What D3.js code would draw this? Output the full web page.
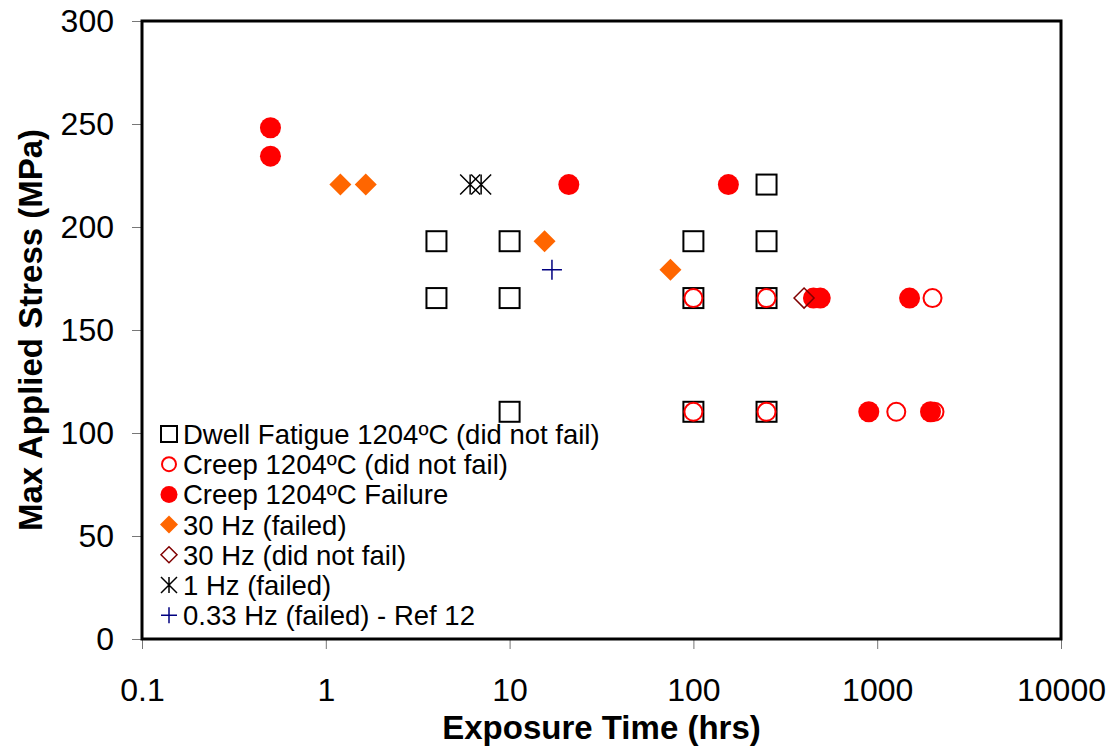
<!DOCTYPE html>
<html>
<head>
<meta charset="utf-8">
<script src="https://cdn.jsdelivr.net/npm/d3@7"></script>
<style>
  body { margin: 0; background: #fff; }
  svg { display: block; font-family: "Liberation Sans", Arial, sans-serif; }
</style>
</head>
<body>
<div id="chart"></div>
<script>
// data (time in hrs, stress in MPa)
var dwellT = [4, 10, 100, 250, 250, 4, 10, 100, 250, 10, 100, 250];
var dwellS = [193.1, 193.1, 193.1, 193.1, 220.6, 165.5, 165.5, 165.5, 165.5, 110.3, 110.3, 110.3];
var creepOkT = [100, 250, 2000, 100, 250, 1270, 2050];
var creepOkS = [165.5, 165.5, 165.5, 110.3, 110.3, 110.3, 110.3];
var creepFailT = [0.5, 0.5, 21, 155, 450, 490, 1500, 900, 1950];
var creepFailS = [248.2, 234.4, 220.6, 220.6, 165.5, 165.5, 165.5, 110.3, 110.3];
var hz30FailT = [1.2, 1.65, 15.5, 75];
var hz30FailS = [220.6, 220.6, 193.1, 179.3];
var hz30OkT = [400];
var hz30OkS = [165.5];
var hz1T = [6.1, 7.0];
var hz1S = [220.6, 220.6];
var hz033T = [17];
var hz033S = [179.3];

var seriesNames = [
  "Dwell Fatigue 1204ºC (did not fail)",
  "Creep 1204ºC (did not fail)",
  "Creep 1204ºC Failure",
  "30 Hz (failed)",
  "30 Hz (did not fail)",
  "1 Hz (failed)",
  "0.33 Hz (failed) - Ref 12"
];
var xTicks = [0.1, 1, 10, 100, 1000, 10000];
var yTicks = [0, 50, 100, 150, 200, 250, 300];

function zip(t, s) {
  return t.map(function(v, i) { return { t: v, s: s[i] }; });
}

var series = [
  { name: seriesNames[0], type: "square", pts: zip(dwellT, dwellS) },
  { name: seriesNames[1], type: "circleOpen", pts: zip(creepOkT, creepOkS) },
  { name: seriesNames[2], type: "circleFill", pts: zip(creepFailT, creepFailS) },
  { name: seriesNames[3], type: "diamondFill", pts: zip(hz30FailT, hz30FailS) },
  { name: seriesNames[4], type: "diamondOpen", pts: zip(hz30OkT, hz30OkS) },
  { name: seriesNames[5], type: "asterisk", pts: zip(hz1T, hz1S) },
  { name: seriesNames[6], type: "plus", pts: zip(hz033T, hz033S) }
];

var w = 1118;
var h = 752;
var plotL = 142, plotR = 1061, plotT = 21, plotB = 639;

var svg = d3.select("#chart").append("svg")
  .attr("width", w)
  .attr("height", h);

var x = d3.scaleLog().domain([0.1, 10000]).range([plotL, plotR]);
var y = d3.scaleLinear().domain([0, 300]).range([plotB, plotT]);

// axes
var xAxis = d3.axisBottom(x)
  .tickValues(xTicks)
  .tickFormat(function(d) { return String(d); })
  .tickSize(10)
  .tickPadding(29);
var yAxis = d3.axisLeft(y)
  .tickValues(yTicks)
  .tickSize(10)
  .tickPadding(18);

var gx = svg.append("g")
  .attr("transform", "translate(0," + plotB + ")")
  .call(xAxis);
var gy = svg.append("g")
  .attr("transform", "translate(" + plotL + ",0)")
  .call(yAxis);

[gx, gy].forEach(function(g) {
  g.select(".domain").remove();
  g.selectAll(".tick line").attr("stroke", "#777").attr("stroke-width", 1);
  g.selectAll(".tick text")
    .attr("font-family", "Liberation Sans, Arial, sans-serif")
    .attr("font-size", "32px")
    .attr("fill", "#000");
});

// plot frame
svg.append("rect")
  .attr("x", plotL)
  .attr("y", plotT)
  .attr("width", plotR - plotL)
  .attr("height", plotB - plotT)
  .attr("fill", "none")
  .attr("stroke", "#000")
  .attr("stroke-width", 3);

// axis titles
svg.append("text")
  .text("Exposure Time (hrs)")
  .attr("x", (plotL + plotR) / 2)
  .attr("y", 739)
  .attr("text-anchor", "middle")
  .attr("font-size", "33px")
  .attr("font-weight", "bold");

svg.append("text")
  .text("Max Applied Stress (MPa)")
  .attr("transform", "translate(42," + (plotT + plotB) / 2 + ") rotate(-90)")
  .attr("text-anchor", "middle")
  .attr("font-size", "33px")
  .attr("font-weight", "bold");

// marker drawing
function drawMarker(g, type, s) {
  var r = s / 2;
  if (type == "square") {
    g.append("rect")
      .attr("x", -r).attr("y", -r)
      .attr("width", s).attr("height", s)
      .attr("fill", "none")
      .attr("stroke", "#000")
      .attr("stroke-width", 2);
  } else if (type == "circleOpen") {
    g.append("circle")
      .attr("r", r - 1)
      .attr("fill", "none")
      .attr("stroke", "#ff0000")
      .attr("stroke-width", 2);
  } else if (type == "circleFill") {
    g.append("circle")
      .attr("r", r + 0.5)
      .attr("fill", "#ff0000");
  } else if (type == "diamondFill") {
    g.append("path")
      .attr("d", "M0," + (-r - 1) + "L" + (r + 1) + ",0L0," + (r + 1) + "L" + (-r - 1) + ",0Z")
      .attr("fill", "#ff6600");
  } else if (type == "diamondOpen") {
    g.append("path")
      .attr("d", "M0," + (-r) + "L" + r + ",0L0," + r + "L" + (-r) + ",0Z")
      .attr("fill", "none")
      .attr("stroke", "#800000")
      .attr("stroke-width", 1.5);
  } else if (type == "asterisk") {
    g.append("path")
      .attr("d", "M" + (-r) + "," + (-r) + "L" + r + "," + r +
        "M" + (-r) + "," + r + "L" + r + "," + (-r) +
        "M0," + (-r) + "L0," + r)
      .attr("fill", "none")
      .attr("stroke", "#000")
      .attr("stroke-width", 1.5);
  } else if (type == "plus") {
    g.append("path")
      .attr("d", "M" + (-r) + ",0L" + r + ",0M0," + (-r) + "L0," + r)
      .attr("fill", "none")
      .attr("stroke", "#000080")
      .attr("stroke-width", 1.5);
  }
}

// points
series.forEach(function(ser) {
  svg.append("g")
    .selectAll("g")
    .data(ser.pts)
    .enter()
    .append("g")
    .attr("transform", function(d) {
      return "translate(" + x(d.t) + "," + y(d.s) + ")";
    })
    .each(function() { drawMarker(d3.select(this), ser.type, 20); });
});

// legend
var legend = svg.append("g");
series.forEach(function(ser, i) {
  var ly = 434 + i * 30.2;
  var m = legend.append("g").attr("transform", "translate(169," + ly + ")");
  drawMarker(m, ser.type, 16);
  legend.append("text")
    .text(ser.name)
    .attr("x", 183)
    .attr("y", ly + 10)
    .attr("font-size", "27.5px")
    .attr("fill", "#000");
});
</script>
</body>
</html>
